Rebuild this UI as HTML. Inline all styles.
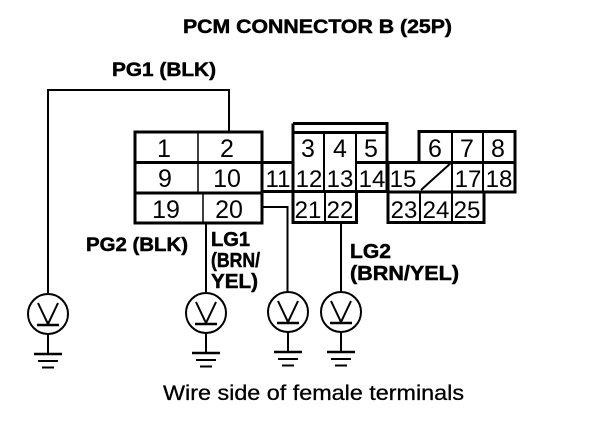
<!DOCTYPE html>
<html><head><meta charset="utf-8"><style>
html,body{margin:0;padding:0;background:#fff;width:608px;height:424px;overflow:hidden}
svg{display:block}
text{font-family:"Liberation Sans",sans-serif;fill:#000}
.b{font-weight:bold;font-size:19px;stroke:#000;stroke-width:.5}
.n{font-size:25px;text-anchor:middle}
.s{font-size:24px;text-anchor:middle}
</style></head><body>
<svg width="608" height="424" viewBox="0 0 608 424" xmlns="http://www.w3.org/2000/svg">
<text class="b" x="183" y="33" textLength="269" lengthAdjust="spacingAndGlyphs" style="font-size:19.500px">PCM CONNECTOR B (25P)</text>
<text class="b" x="112" y="76" textLength="104" lengthAdjust="spacingAndGlyphs">PG1 (BLK)</text>
<text class="b" x="86" y="251" textLength="102" lengthAdjust="spacingAndGlyphs">PG2 (BLK)</text>
<text class="b" x="211" y="246" textLength="39" lengthAdjust="spacingAndGlyphs" style="font-size:20px">LG1</text>
<text class="b" x="211" y="267" textLength="49" lengthAdjust="spacingAndGlyphs" style="font-size:20px">(BRN/</text>
<text class="b" x="211" y="288" textLength="47" lengthAdjust="spacingAndGlyphs" style="font-size:20px">YEL)</text>
<text class="b" x="350" y="258" textLength="41" lengthAdjust="spacingAndGlyphs" style="font-size:20px">LG2</text>
<text class="b" x="350" y="280" textLength="109" lengthAdjust="spacingAndGlyphs" style="font-size:20px">(BRN/YEL)</text>
<text x="163" y="400" textLength="301" lengthAdjust="spacingAndGlyphs" style="font-size:21px;stroke:#000;stroke-width:.3">Wire side of female terminals</text>

<g fill="none" stroke="#000" stroke-width="2">
<path d="M48 293V90H229V132"/>
<path d="M206 223V293"/>
<path d="M262 207H287.500V292"/>
<path d="M341 222V292"/>
<path d="M198 132V193" stroke-width="1.500"/>
<path d="M203 193V223" stroke-width="1.500"/>
<path d="M324 132V191M356 132V191M325 191V222" stroke-width="2"/>
<path d="M452 131V222M483 131V192M420 191V222" stroke-width="2"/>
<path d="M421 190L452 162" stroke-width="2"/>
</g>
<g fill="none" stroke="#000" stroke-width="3">
<rect x="135" y="132" width="127" height="91"/>
<path d="M135 162.500H293M135 193H262"/>
<path d="M262 191.500H293"/>
<path d="M293 123.500H387V191.500M293 123.500V162M293 132.500H387M293 162V222.500H356.500V191"/>
<path d="M293 191.500H388"/>
<path d="M356 162.500H515"/>
<path d="M419 162V131.500H515V192H388V222.500H484V192"/>
<path d="M388 162V222"/>
</g>
<g class="digits">
<text class="n" x="164" y="157">1</text><text class="n" x="227" y="157">2</text>
<text class="n" x="165" y="187">9</text><text class="n" x="227" y="187">10</text>
<text class="n" x="166" y="218">19</text><text class="n" x="229" y="218">20</text>
<text class="s" x="278" y="187">11</text>
<text class="n" x="308" y="157">3</text><text class="n" x="340" y="157">4</text><text class="n" x="371" y="157">5</text>
<text class="s" x="309" y="187">12</text><text class="s" x="340" y="187">13</text><text class="s" x="372" y="187">14</text>
<text class="s" x="403" y="187">15</text>
<text class="s" x="308" y="218">21</text><text class="s" x="340" y="218">22</text>
<text class="n" x="435" y="157">6</text><text class="n" x="467" y="157">7</text><text class="n" x="498" y="157">8</text>
<text class="s" x="468" y="187">17</text><text class="s" x="499" y="187">18</text>
<text class="s" x="404" y="218">23</text><text class="s" x="436" y="218">24</text><text class="s" x="467" y="218">25</text>
</g>
<defs>
<g id="m" fill="none" stroke="#000" stroke-width="2">
<circle cx="0" cy="0" r="20"/>
<path d="M-10 -11L0 10L10 -11"/>
<path d="M-11 11H11" stroke-width="2.500"/>
<path d="M0 20V40"/>
<path d="M-14 40H14" stroke-width="2.500"/>
<path d="M-10 47H10"/>
<path d="M-6 53.500H6"/>
</g>
</defs>
<use href="#m" x="48" y="314"/>
<use href="#m" x="206" y="313"/>
<use href="#m" x="288" y="312"/>
<use href="#m" x="341" y="312"/>
</svg>
</body></html>
